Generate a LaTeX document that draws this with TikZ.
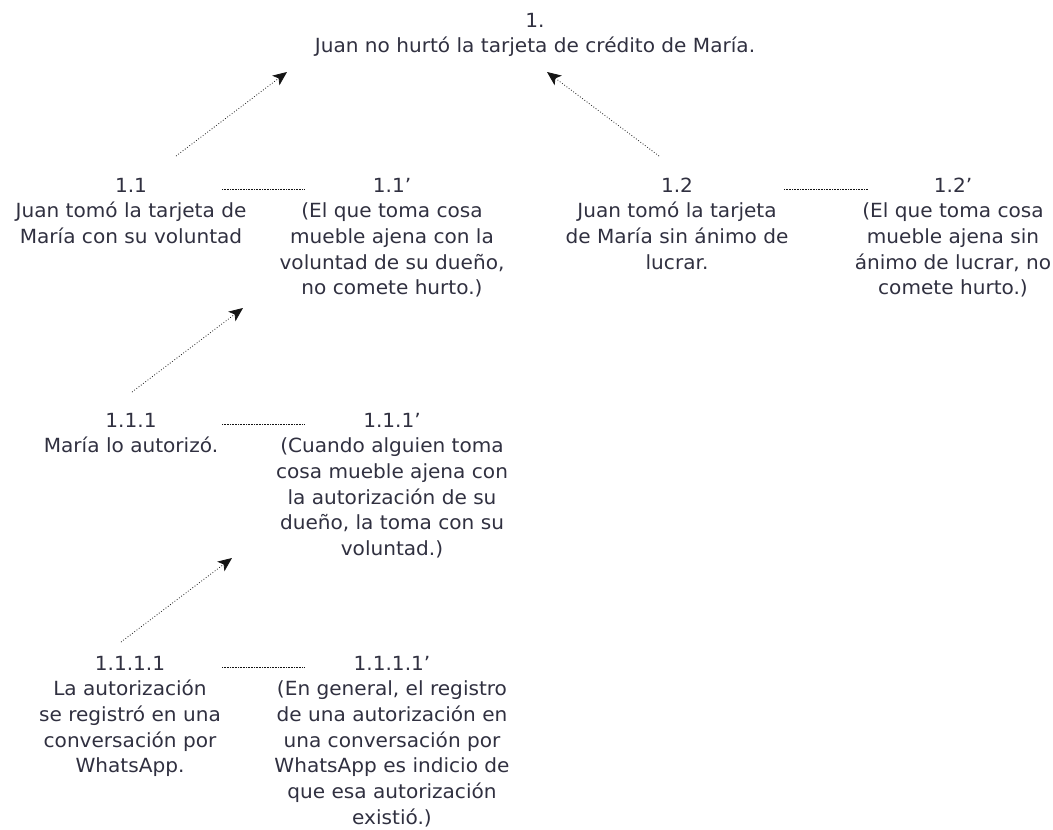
\documentclass[tikz,border=0pt]{standalone}
\usepackage{fontspec}
\setmainfont{DejaVu Sans}[FakeStretch=1.03]
\usepackage{tikz}
\usetikzlibrary{arrows.meta,positioning}
\usepackage{xcolor}
\definecolor{argtext}{RGB}{48,48,64}
\definecolor{arglink}{RGB}{20,20,20}
\newcommand{\argbox}[1]{\begin{tabular}[t]{@{}c@{}}#1\end{tabular}}
\tikzstyle{claim} = [anchor=base, inner sep=0pt, text=argtext, font=\fontsize{19.5}{25.7}\selectfont]
\tikzstyle{support} = [line width=0.8pt, dotted, color=arglink, -{Stealth[length=14pt,width=12pt,inset=3.5pt]}]
\tikzstyle{warrant} = [line width=0.6pt, dash pattern=on 0.6pt off 1pt, color=arglink]

\begin{document}
\begin{tikzpicture}[x=1pt, y=-1pt]
\useasboundingbox (0,0) rectangle (1053,830);
% Main claim
\node[claim] (c1) at (535,27) {\argbox{1.\\Juan no hurtó la tarjeta de crédito de María.}};

% First level
\node[claim] (c11) at (131,192) {\argbox{1.1\\Juan tomó la tarjeta de\\María con su voluntad}};
\node[claim] (c11w) at (392,192) {\argbox{1.1’\\(El que toma cosa\\mueble ajena con la\\voluntad de su dueño,\\no comete hurto.)}};
\node[claim] (c12) at (677,192) {\argbox{1.2\\Juan tomó la tarjeta\\de María sin ánimo de\\lucrar.}};
\node[claim] (c12w) at (953,192) {\argbox{1.2’\\(El que toma cosa\\mueble ajena sin\\ánimo de lucrar, no\\comete hurto.)}};

% Second level
\node[claim] (c111) at (131,427) {\argbox{1.1.1\\María lo autorizó.}};
\node[claim] (c111w) at (392,427) {\argbox{1.1.1’\\(Cuando alguien toma\\cosa mueble ajena con\\la autorización de su\\dueño, la toma con su\\voluntad.)}};

% Third level
\node[claim] (c1111) at (130,670) {\argbox{1.1.1.1\\La autorización\\se registró en una\\conversación por\\WhatsApp.}};
\node[claim] (c1111w) at (392,670) {\argbox{1.1.1.1’\\(En general, el registro\\de una autorización en\\una conversación por\\WhatsApp es indicio de\\que esa autorización\\existió.)}};

% Warrants
\draw[warrant] ([shift={(91,-3)}]c11.base) -- ([shift={(-88,-3)}]c11w.base);
\draw[warrant] ([shift={(107,-3)}]c12.base) -- ([shift={(-85,-3)}]c12w.base);
\draw[warrant] ([shift={(91,-3)}]c111.base) -- ([shift={(-88,-3)}]c111w.base);
\draw[warrant] ([shift={(92,-3)}]c1111.base) -- ([shift={(-88,-3)}]c1111w.base);

% Supports
\draw[support] ([shift={(45,-36)}]c11.base) -- ([shift={(-248,45)}]c1.base);
\draw[support] ([shift={(-18,-36)}]c12.base) -- ([shift={(12,45)}]c1.base);
\draw[support] ([shift={(1,-35)}]c111.base) -- ([shift={(-149,116)}]c11w.base);
\draw[support] ([shift={(-9,-28)}]c1111.base) -- ([shift={(-160,131)}]c111w.base);
\end{tikzpicture}
\end{document}
